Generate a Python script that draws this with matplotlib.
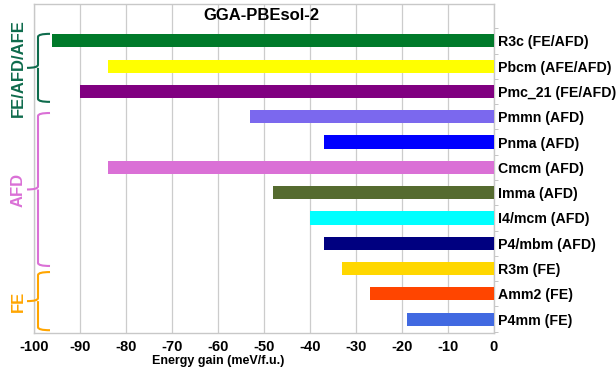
import matplotlib
matplotlib.use("Agg")
import matplotlib.pyplot as plt
from matplotlib.path import Path
from matplotlib.patches import PathPatch
import matplotlib.transforms as mtransforms

plt.rcParams['font.family'] = ['Liberation Sans', 'DejaVu Sans']

phases = ["R3c (FE/AFD)", "Pbcm (AFE/AFD)", "Pmc_21 (FE/AFD)", "Pmmn (AFD)",
          "Pnma (AFD)", "Cmcm (AFD)", "Imma (AFD)", "I4/mcm (AFD)",
          "P4/mbm (AFD)", "R3m (FE)", "Amm2 (FE)", "P4mm (FE)"]
energy_gain = [-96, -84, -90, -53, -37, -84, -48, -40, -37, -33, -27, -19]
bar_colors = ["#007A2A", "#FFFF00", "#800080", "#7B68EE", "#0000FF", "#DA70D6",
              "#556B2F", "#00FFFF", "#000080", "#FFD700", "#FF4500", "#4169E1"]

groups = ["FE/AFD/AFE", "AFD", "FE"]
group_spans = [(-0.28, 2.41), (2.85, 8.9), (9.14, 11.44)]
group_colors = ["#0E6B4C", "#DA70D6", "#FFA500"]

xticks = list(range(-100, 1, 10))

fig = plt.figure(figsize=(6.16, 3.71), dpi=100)
ax = fig.add_axes([34/616, 1-333/371, 460/616, 329/371])

ypos = list(range(len(phases)))
ax.barh(ypos, energy_gain, height=0.52, color=bar_colors, zorder=3)

ax.set_xlim(-100, 0)
ax.set_ylim(11.55, -1.46)
ax.set_xticks(xticks)
ax.set_xticklabels([str(t) for t in xticks], fontweight='bold', fontsize=10.5)
ax.tick_params(axis='x', length=0, pad=5)
ax.grid(axis='x', color='#cccccc', lw=0.9, zorder=0)

ax.yaxis.tick_right()
ax.set_yticks(ypos)
ax.set_yticklabels(phases, fontweight='bold', fontsize=10.2)
ax.tick_params(axis='y', length=0, pad=3)
ax.set_yticks([i + 0.5 for i in range(-1, len(phases))], minor=True)
ax.tick_params(axis='y', which='minor', length=3, color='#bbbbbb', right=True, left=False)

for s in ax.spines.values():
    s.set_color('#c8c8c8')
    s.set_linewidth(1.0)

ax.set_xlabel("Energy gain (meV/f.u.)", fontweight='bold', fontsize=9)
ax.xaxis.set_label_coords(0.4, -0.068)

ax.text(0.494, 0.965, "GGA-PBEsol-2", transform=ax.transAxes, ha='center', va='center',
        fontweight='bold', fontsize=12)

# curly braces marking the phase groups
trans = mtransforms.blended_transform_factory(ax.transAxes, ax.transData)
x_stem = 4/460
x_arm = 16/460
x_nub = -7/460
r = 0.12
for name, (y0, y1), col in zip(groups, group_spans, group_colors):
    ym = (y0 + y1) / 2
    verts = [(x_arm, y0), (x_stem, y0), (x_stem, y0 + r),
             (x_stem, ym - r), (x_stem, ym), (x_nub, ym),
             (x_stem, ym), (x_stem, ym + r),
             (x_stem, y1 - r), (x_stem, y1), (x_arm, y1)]
    codes = [Path.MOVETO, Path.CURVE3, Path.CURVE3,
             Path.LINETO, Path.CURVE3, Path.CURVE3,
             Path.MOVETO, Path.LINETO,
             Path.LINETO, Path.CURVE3, Path.CURVE3]
    patch = PathPatch(Path(verts, codes), fill=False, edgecolor=col, lw=1.5,
                      transform=trans, clip_on=False, zorder=4)
    ax.add_patch(patch)
    ax.text(-34/460 + 18/460, ym, name, transform=trans, rotation=90,
            ha='center', va='center', color=col, fontweight='bold', fontsize=12)

fig.savefig("out.png", dpi=100)
